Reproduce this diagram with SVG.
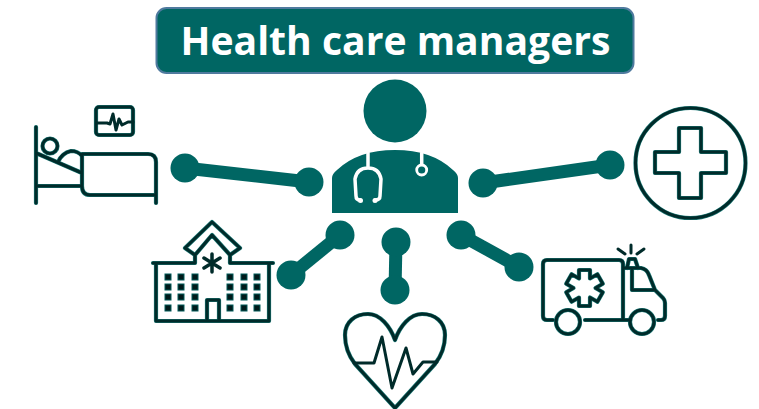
<svg xmlns="http://www.w3.org/2000/svg" width="759" height="409" viewBox="0 0 759 409">
<style>
.i{fill:none;stroke:#002b2a;stroke-width:3;stroke-linejoin:round;stroke-linecap:round}
.o{fill:none;stroke:#1c7a77;stroke-width:4.200;stroke-linejoin:round;stroke-linecap:round}
.w{fill:none;stroke:#fff;stroke-width:3.500;stroke-linecap:round}
.c{stroke:#006663;stroke-width:13}
.d{fill:#006663}
.s{fill:#001a1a;stroke:#005a58;stroke-width:1}
</style>
<defs>
<path id="bedp" d="M36 127V203M36 153L82 173M36 186H82M82 154H148Q156 154 156 162V203M82 154V186Q82 195 90 195H156M58 162Q62 153 71 151Q78 151 82 156"/>
<path id="hosp" d="M195 255V263H153M156 263V321H269V263M273 263H230V255M195 255L185 248L212 222L240 248L230 255L212 235ZM207 321V300H219V321M156 321H269"/>
<path id="heartp" d="M395 408L355 364C348 355 345 345 345 335C345 322 355 314 368 314C380 314 390 326 395 340C400 326 410 314 422 314C435 314 445 322 445 335C445 345 442 355 435 364Z"/>
<path id="amb" d="M553 320H547Q543 320 543 316V264Q543 260 547 260H619Q623 260 623 264V320H585M623 268H641Q647 269 649 275L655 290L663 298Q665 300 665 303V316Q665 320 661 320H658M630 320H623M632 270V290H655M627 268L629 259H635L638 268"/>
<path id="star" d="M579 270H590V278.500L597.400 274.200L602.800 283.800L595.500 288L602.800 292.200L597.400 301.800L590 297.500V306H579V297.500L571.600 301.800L566.200 292.200L573.500 288L566.200 283.800L571.600 274.200L579 278.500Z"/>
</defs>
<rect width="759" height="409" fill="#fff"/>
<g id="title"><rect x="156.500" y="8" width="477" height="65" rx="10" fill="#006663" stroke="#4f7a9e" stroke-width="2"/>
<text x="395.500" y="55" text-anchor="middle" font-family="'Open Sans','Noto Sans',sans-serif" font-weight="700" font-size="40" fill="#fff" textLength="430" lengthAdjust="spacingAndGlyphs">Health care managers</text></g>
<g id="connectors">
<line class="c" x1="185" y1="168" x2="309" y2="182"/><circle class="d" cx="185" cy="168" r="14.500"/><circle class="d" cx="309" cy="182" r="14.500"/>
<line class="c" x1="483" y1="183" x2="610" y2="165"/><circle class="d" cx="483" cy="183" r="14.500"/><circle class="d" cx="610" cy="165" r="14.500"/>
<line class="c" x1="340" y1="235" x2="291" y2="275"/><circle class="d" cx="340" cy="235" r="14.500"/><circle class="d" cx="291" cy="275" r="14.500"/>
<line class="c" x1="396" y1="242" x2="395" y2="290"/><circle class="d" cx="396" cy="242" r="14.500"/><circle class="d" cx="395" cy="290" r="14.500"/>
<line class="c" x1="461" y1="235" x2="519" y2="267"/><circle class="d" cx="461" cy="235" r="14.500"/><circle class="d" cx="519" cy="267" r="14.500"/>
</g>
<g id="doctor">
<circle class="d" cx="395" cy="111" r="31.500"/>
<path class="d" d="M332 213V178Q332 174 337 170Q358 150 395 150Q432 150 453 170Q458 174 458 178V213Z"/>
<path class="w" d="M368 153V167M360 200Q356 200 356 196L355 179Q357 168 368 168Q379 168 381 179L380 196Q380 200 375 200"/>
<path class="w" d="M421.700 153V164"/><circle cx="421.700" cy="170" r="5" fill="none" stroke="#fff" stroke-width="2.800"/>
<circle cx="360.500" cy="200.500" r="2.500" fill="#fff"/><circle cx="375" cy="200.500" r="2.500" fill="#fff"/>
</g>
<g id="bed">
<g class="o"><rect x="96" y="107" width="37" height="28" rx="3"/><use href="#bedp"/><circle cx="50" cy="146" r="7.500"/></g>
<g class="i"><rect x="96" y="107" width="37" height="28" rx="3"/><path d="M97 123H107L110 124L113 114L116 130L119 119L122 125L128 122H133"/><use href="#bedp"/><circle cx="50" cy="146" r="7.500"/></g>
</g>
<g id="hospital">
<use href="#hosp" class="o"/><use href="#hosp" class="i"/>
<path class="i" style="stroke-width:3.500" d="M212 254V272M204 258L220 268M220 258L204 268"/>
<g class="s"><rect x="165" y="274" width="6" height="6"/><rect x="178" y="274" width="6" height="6"/><rect x="192" y="274" width="6" height="6"/><rect x="227" y="274" width="6" height="6"/><rect x="241" y="274" width="6" height="6"/><rect x="254" y="274" width="6" height="6"/><rect x="165" y="284" width="6" height="6"/><rect x="178" y="284" width="6" height="6"/><rect x="192" y="284" width="6" height="6"/><rect x="227" y="284" width="6" height="6"/><rect x="241" y="284" width="6" height="6"/><rect x="254" y="284" width="6" height="6"/><rect x="165" y="294" width="6" height="6"/><rect x="178" y="294" width="6" height="6"/><rect x="192" y="294" width="6" height="6"/><rect x="227" y="294" width="6" height="6"/><rect x="241" y="294" width="6" height="6"/><rect x="254" y="294" width="6" height="6"/><rect x="165" y="305" width="6" height="6"/><rect x="178" y="305" width="6" height="6"/><rect x="192" y="305" width="6" height="6"/><rect x="227" y="305" width="6" height="6"/><rect x="241" y="305" width="6" height="6"/><rect x="254" y="305" width="6" height="6"/></g>
</g>
<g id="heart">
<use href="#heartp" class="o"/><use href="#heartp" class="i"/>
<path class="i" d="M354 363H374L382 337L392 388L406 348L413 374L423 362H437"/>
</g>
<g id="ambulance">
<g class="o"><use href="#amb"/><circle cx="568" cy="322" r="12"/><circle cx="642" cy="322" r="12"/><use href="#star"/></g>
<g class="i"><use href="#amb"/><path d="M618 249L625 254M631 245V253M644 249L637 254"/><circle cx="568" cy="322" r="12"/><circle cx="642" cy="322" r="12"/><use href="#star"/></g>
</g>
<g id="cross">
<circle class="o" cx="690.500" cy="163" r="55"/><circle class="i" cx="690.500" cy="163" r="55"/>
<path class="o" d="M679 128H701V152H726V173H701V198H679V173H655V152H679Z"/>
<path class="i" d="M679 128H701V152H726V173H701V198H679V173H655V152H679Z"/>
</g>
</svg>
